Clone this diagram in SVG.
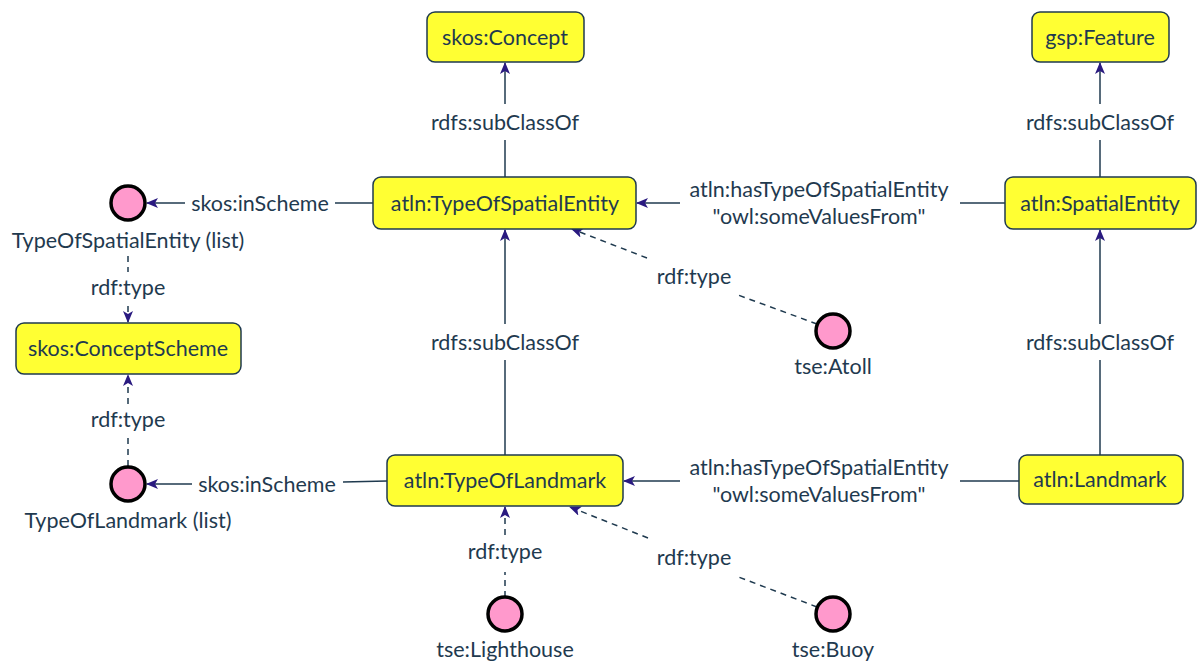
<svg xmlns="http://www.w3.org/2000/svg" width="1197" height="662" viewBox="0 0 1197 662">
<style>
text{font-family:Lato,"Open Sans","DejaVu Sans",sans-serif;font-size:21.5px;fill:#1f3a4f;text-anchor:middle}
.box{fill:#ffff33;stroke:#1f3a4f;stroke-width:1.5}
.inst{fill:#ff99cc;stroke:#000;stroke-width:3.5}
.e{stroke:#1f3a4f;stroke-width:1.5;fill:none}
.d{stroke:#1f3a4f;stroke-width:1.5;fill:none;stroke-dasharray:6,5}
</style>
<defs>
<marker id="ah" viewBox="0 0 12 10" refX="11" refY="5" markerWidth="12" markerHeight="10" markerUnits="userSpaceOnUse" orient="auto">
<path d="M0,0 L12,5 L0,10 L3,5 Z" fill="#2a1a80"/>
</marker>
</defs>
<rect width="1197" height="662" fill="#fff"/>
<g id="connectors">
<line class="e" x1="505" y1="177" x2="505" y2="140"/><line class="e" x1="505" y1="104" x2="505" y2="63" marker-end="url(#ah)"/>
<text x="505" y="130">rdfs:subClassOf</text>
<line class="e" x1="1100" y1="177" x2="1100" y2="140"/><line class="e" x1="1100" y1="104" x2="1100" y2="63" marker-end="url(#ah)"/>
<text x="1100" y="130">rdfs:subClassOf</text>
<line class="e" x1="505" y1="455" x2="505" y2="360"/><line class="e" x1="505" y1="324" x2="505" y2="230" marker-end="url(#ah)"/>
<text x="505" y="350">rdfs:subClassOf</text>
<line class="e" x1="1100" y1="455" x2="1100" y2="360"/><line class="e" x1="1100" y1="324" x2="1100" y2="230" marker-end="url(#ah)"/>
<text x="1100" y="350">rdfs:subClassOf</text>
<line class="e" x1="1005" y1="203" x2="960" y2="203"/><line class="e" x1="680" y1="203" x2="637" y2="203" marker-end="url(#ah)"/>
<text x="819" y="197">atln:hasTypeOfSpatialEntity</text>
<text x="819" y="224">"owl:someValuesFrom"</text>
<line class="e" x1="1019" y1="481" x2="960" y2="481"/><line class="e" x1="680" y1="481" x2="624" y2="481" marker-end="url(#ah)"/>
<text x="819" y="475">atln:hasTypeOfSpatialEntity</text>
<text x="819" y="502">"owl:someValuesFrom"</text>
<line class="e" x1="373" y1="203" x2="335" y2="203"/><line class="e" x1="185" y1="203" x2="147" y2="203" marker-end="url(#ah)"/>
<text x="260" y="211">skos:inScheme</text>
<line class="e" x1="387" y1="481" x2="343" y2="482"/><line class="e" x1="192" y1="484" x2="147" y2="484" marker-end="url(#ah)"/>
<text x="267" y="492">skos:inScheme</text>
<line class="d" x1="128" y1="256" x2="128" y2="272"/><line class="d" x1="128" y1="306" x2="128" y2="322" marker-end="url(#ah)"/>
<text x="128" y="295">rdf:type</text>
<line class="d" x1="128" y1="466" x2="128" y2="438"/><line class="d" x1="128" y1="404" x2="128" y2="375" marker-end="url(#ah)"/>
<text x="128" y="427">rdf:type</text>
<line class="d" x1="817" y1="324" x2="738" y2="295"/><line class="d" x1="647" y1="258" x2="572" y2="229" marker-end="url(#ah)"/>
<text x="694" y="284">rdf:type</text>
<line class="d" x1="505" y1="597" x2="505" y2="572"/><line class="d" x1="505" y1="535" x2="505" y2="507" marker-end="url(#ah)"/>
<text x="505" y="559">rdf:type</text>
<line class="d" x1="817" y1="607" x2="736" y2="576"/><line class="d" x1="648" y1="538" x2="570" y2="507" marker-end="url(#ah)"/>
<text x="694" y="565">rdf:type</text>
</g>
<g id="skosConcept"><rect class="box" x="427" y="12" width="157" height="50" rx="8"/><text x="505" y="45">skos:Concept</text></g>
<g id="gspFeature"><rect class="box" x="1032" y="12" width="137" height="50" rx="8"/><text x="1100" y="45">gsp:Feature</text></g>
<g id="typeOfSpatialEntity"><rect class="box" x="373" y="177" width="263" height="52" rx="8"/><text x="505" y="211">atln:TypeOfSpatialEntity</text></g>
<g id="spatialEntity"><rect class="box" x="1005" y="177" width="191" height="52" rx="8"/><text x="1100" y="211">atln:SpatialEntity</text></g>
<g id="conceptScheme"><rect class="box" x="16" y="323" width="225" height="51" rx="8"/><text x="128" y="356">skos:ConceptScheme</text></g>
<g id="typeOfLandmark"><rect class="box" x="387" y="455" width="236" height="51" rx="8"/><text x="505" y="488">atln:TypeOfLandmark</text></g>
<g id="landmark"><rect class="box" x="1019" y="455" width="164" height="49" rx="8"/><text x="1100" y="487">atln:Landmark</text></g>
<g id="listSpatial"><circle class="inst" cx="128" cy="203" r="17"/><text x="128" y="248">TypeOfSpatialEntity (list)</text></g>
<g id="listLandmark"><circle class="inst" cx="128" cy="484" r="17"/><text x="128" y="528">TypeOfLandmark (list)</text></g>
<g id="atoll"><circle class="inst" cx="833" cy="331" r="17"/><text x="833" y="374">tse:Atoll</text></g>
<g id="lighthouse"><circle class="inst" cx="505" cy="614" r="17"/><text x="505" y="657">tse:Lighthouse</text></g>
<g id="buoy"><circle class="inst" cx="833" cy="614" r="17"/><text x="833" y="657">tse:Buoy</text></g>
</svg>
